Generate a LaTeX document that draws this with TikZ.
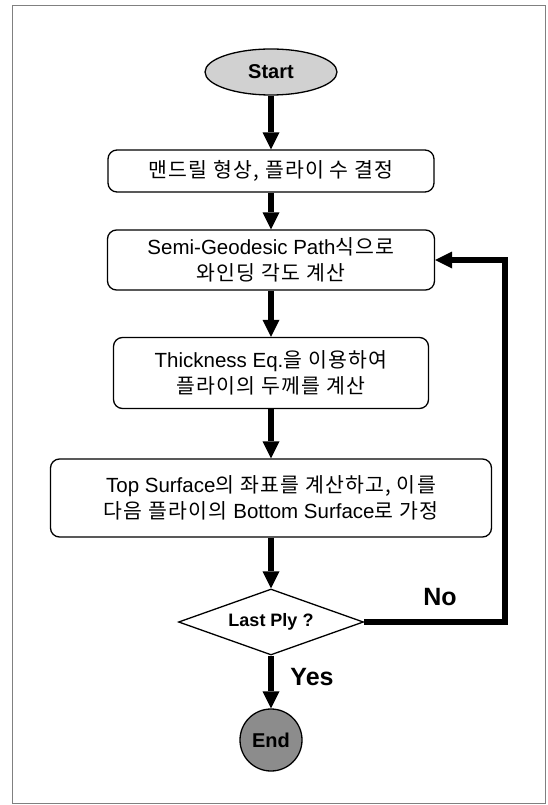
\documentclass[tikz,border=0pt]{standalone}
\usepackage{fontspec}
\setmainfont{Liberation Sans}
\newfontfamily\korfont[Scale=1.0,LetterSpace=6]{Noto Sans CJK KR}
\newcommand{\kor}[1]{{\korfont #1}}
\usetikzlibrary{arrows.meta,shapes.geometric}

\tikzset{
  procbox/.style={draw, rounded corners=9pt, line width=1.3pt, align=center,
                  inner sep=0pt, font=\fontsize{20.5}{26}\selectfont},
  termnode/.style={draw, line width=1.3pt, inner sep=0pt,
                   font=\bfseries\fontsize{20}{24}\selectfont},
  flowarrow/.style={line width=6.5pt, line join=miter,
                    -{Triangle[length=17pt,width=17pt,line width=0pt]}},
  answer/.style={font=\bfseries\fontsize{25}{30}\selectfont}
}

\begin{document}
\begin{tikzpicture}[x=1pt, y=-1pt]
        \useasboundingbox (0,0) rectangle (548,805);
        % Frame
        \draw [gray, line width=0.8pt] (12,5) rectangle (545,803);
        % Start and end
        \node [termnode, ellipse, fill=black!18, minimum width=132pt, minimum height=46pt]
            (start) at (271,72) {Start};
        \node [termnode, circle, fill=black!45, minimum size=62pt]
            (finish) at (271,740) {End};
        % Steps
        \node [procbox, minimum width=326pt, minimum height=42pt]
            (mandrel) at (271,171) {\kor{맨드릴 형상, 플라이 수 결정}};
        \node [procbox, minimum width=327pt, minimum height=60pt]
            (winding) at (271,260) {Semi-Geodesic Path\kor{식으로}\\\kor{와인딩 각도 계산}};
        \node [procbox, minimum width=315pt, minimum height=71pt]
            (thick) at (271,373) {Thickness Eq.\kor{을 이용하여}\\\kor{플라이의 두께를 계산}};
        \node [procbox, minimum width=441pt, minimum height=78pt]
            (surface) at (271,498) {Top Surface\kor{의 좌표를 계산하고, 이를}\\\kor{다음 플라이의} Bottom Surface\kor{로 가정}};
        % Decision
        \node [draw, diamond, aspect=2.8, line width=1.3pt, inner sep=0pt,
               minimum width=185pt, minimum height=66pt,
               font=\bfseries\fontsize{18}{22}\selectfont]
            (lastply) at (271,622) {Last Ply ?};
        % Arrows
        \draw [flowarrow] (start) -- (mandrel);
        \draw [flowarrow] (mandrel) -- (winding);
        \draw [flowarrow] (winding) -- (thick);
        \draw [flowarrow] (thick) -- (surface);
        \draw [flowarrow] (surface) -- (lastply);
        \draw [flowarrow] (lastply) -- (finish);
        % Loop back to the winding step
        \coordinate (back) at (505,260);
        \draw [flowarrow] (lastply.east) -| (back) -- (winding.east);
        % Answers
        \node [answer] (no) at (440,597) {No};
        \node [answer] (yes) at (312,677) {Yes};
\end{tikzpicture}
\end{document}
